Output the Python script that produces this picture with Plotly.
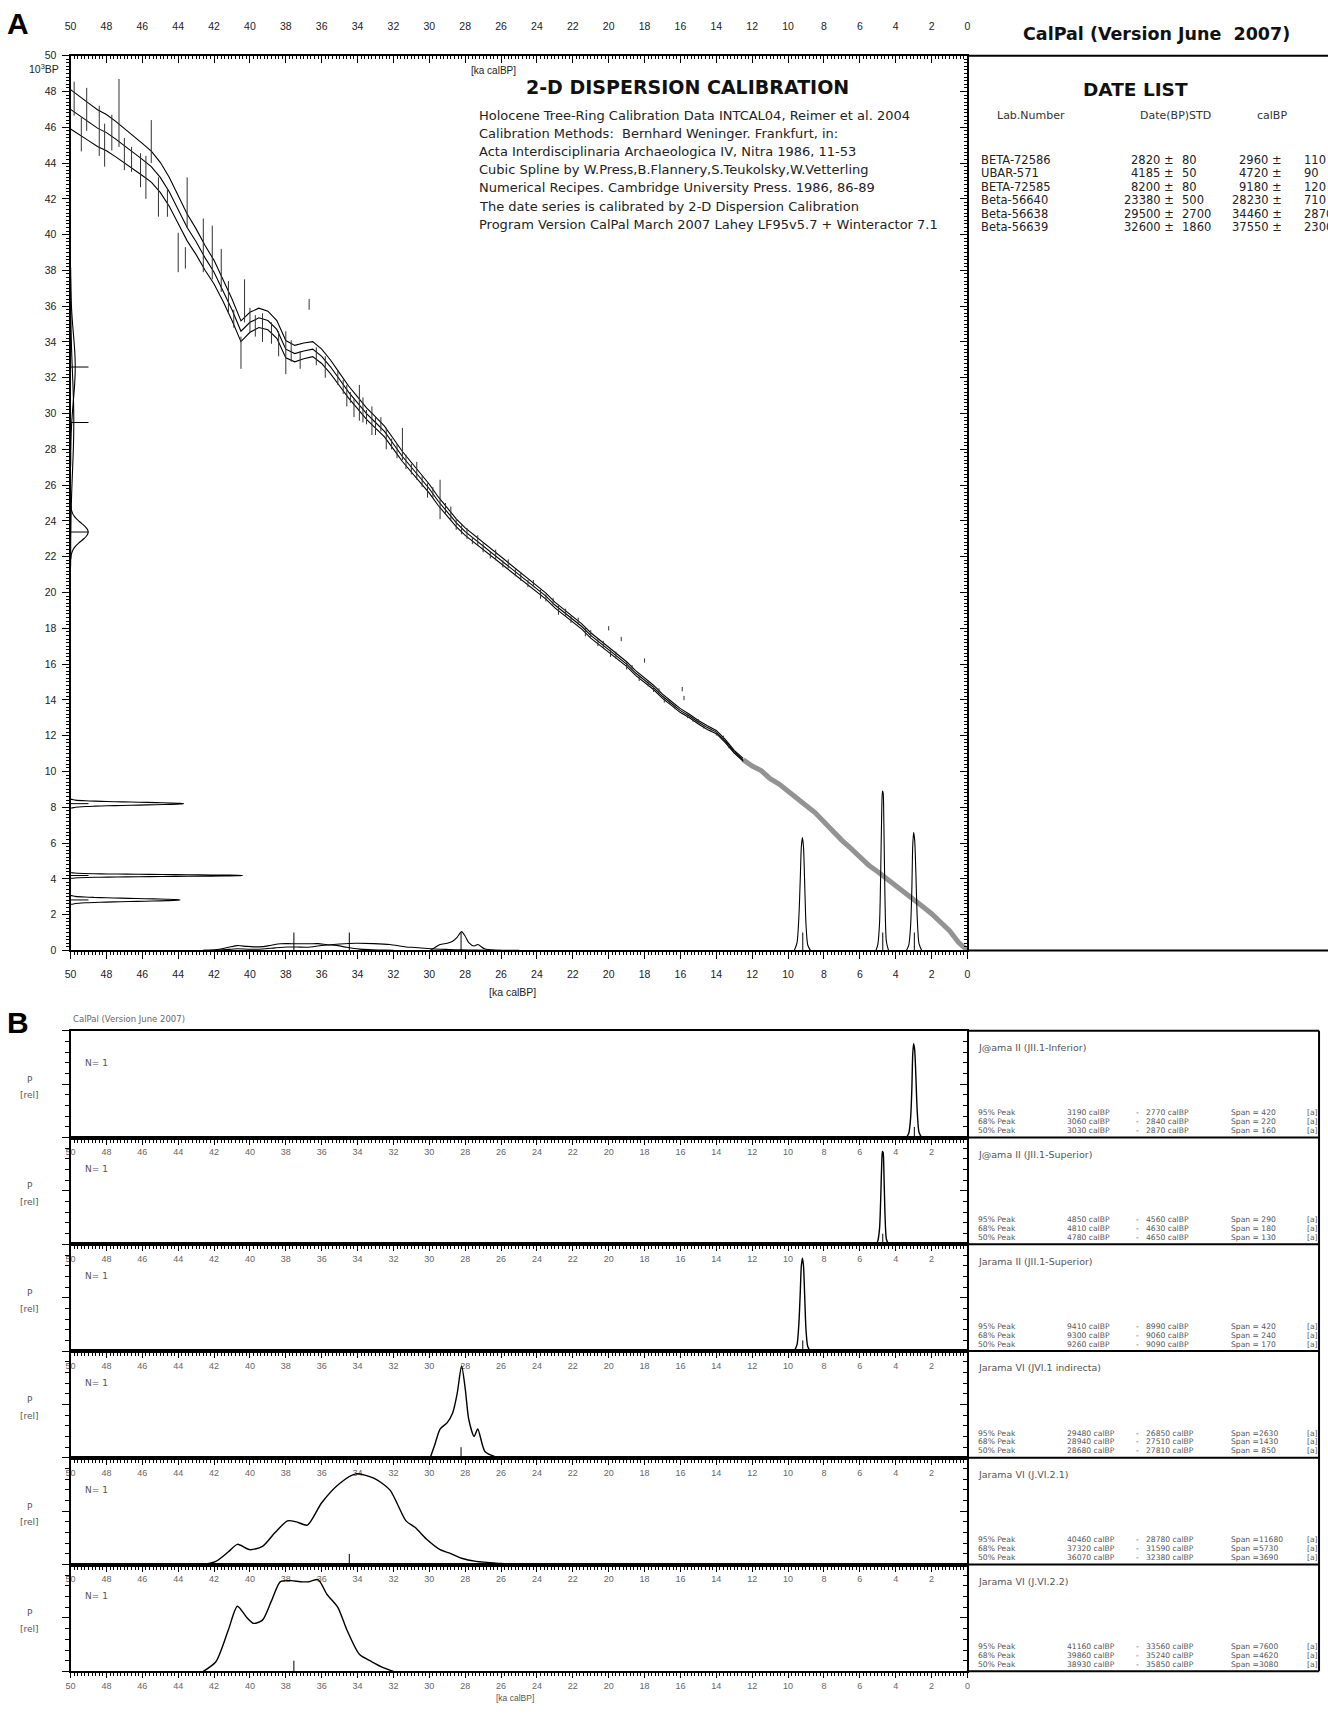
import plotly.graph_objects as go

W, H = 1328, 1730
SANS = "Liberation Sans, Arial, sans-serif"
WIDE = "DejaVu Sans, Verdana, sans-serif"

# ------------------------------------------------------------------ data
lab_numbers = ["BETA-72586", "UBAR-571", "BETA-72585", "Beta-56640", "Beta-56638", "Beta-56639"]
c14_bp = [2820, 4185, 8200, 23380, 29500, 32600]
c14_std = [80, 50, 80, 500, 2700, 1860]
cal_bp = [2960, 4720, 9180, 28230, 34460, 37550]
cal_std = [110, 90, 120, 710, 2870, 2300]

x_ticks = [50, 48, 46, 44, 42, 40, 38, 36, 34, 32, 30, 28, 26, 24, 22, 20, 18, 16, 14, 12, 10, 8, 6, 4, 2, 0]
y_ticks = [0, 2, 4, 6, 8, 10, 12, 14, 16, 18, 20, 22, 24, 26, 28, 30, 32, 34, 36, 38, 40, 42, 44, 46, 48, 50]

# calibration curve: ka calBP -> 10^3 BP (mean and 1-sigma)
curve_cal = [0.0, 0.5, 1.0, 1.5, 2.0, 2.5, 3.0, 3.5, 4.0, 4.5, 5.0, 5.5, 6.0, 6.5, 7.0, 7.5, 8.0, 8.5, 9.0, 9.5,
             10.0, 10.5, 11.0, 11.5, 12.0, 12.5, 13.0, 13.5, 14.0, 14.5, 15.0, 15.5, 16.0, 16.5, 17.0, 17.5,
             18.0, 18.5, 19.0, 19.5, 20.0, 20.5, 21.0, 21.5, 22.0, 22.5, 23.0, 23.5, 24.0, 24.5, 25.0, 25.5,
             26.0, 26.5, 27.0, 27.5, 28.0, 28.5, 29.0, 29.5, 30.0, 30.5, 31.0, 31.5, 32.0, 32.5, 33.0, 33.5,
             34.0, 34.5, 35.0, 35.5, 36.0, 36.5, 37.0, 37.5, 38.0, 38.5, 39.0, 39.5, 40.0, 40.5, 41.0, 41.5,
             42.0, 42.5, 43.0, 43.5, 44.0, 44.5, 45.0, 45.5, 46.0, 46.5, 47.0, 47.5, 48.0, 48.5, 49.0, 49.5, 50.0]
curve_c14 = [0.00, 0.45, 1.10, 1.60, 2.05, 2.45, 2.85, 3.25, 3.60, 4.00, 4.40, 4.75, 5.25, 5.70, 6.15, 6.65,
             7.20, 7.70, 8.10, 8.50, 8.90, 9.30, 9.60, 10.05, 10.30, 10.65, 11.10, 11.70, 12.20, 12.45, 12.75,
             13.10, 13.40, 13.80, 14.20, 14.70, 15.10, 15.50, 16.00, 16.40, 16.80, 17.20, 17.60, 18.10, 18.50,
             18.90, 19.30, 19.80, 20.20, 20.60, 21.00, 21.40, 21.80, 22.20, 22.60, 23.00, 23.40, 23.90, 24.50,
             25.10, 25.80, 26.40, 27.00, 27.60, 28.30, 29.00, 29.50, 30.00, 30.60, 31.20, 31.90, 32.60, 33.20,
             33.60, 33.50, 33.35, 33.60, 34.70, 35.20, 35.35, 35.10, 34.60, 35.80, 36.90, 37.90, 38.70, 39.60,
             40.40, 41.40, 42.40, 43.20, 43.80, 44.20, 44.60, 45.00, 45.35, 45.70, 45.95, 46.30, 46.65, 47.00]
curve_sig = [0.02, 0.02, 0.02, 0.02, 0.03, 0.03, 0.03, 0.03, 0.03, 0.03, 0.04, 0.04, 0.04, 0.04, 0.04, 0.05,
             0.05, 0.05, 0.05, 0.05, 0.06, 0.06, 0.06, 0.07, 0.07, 0.08, 0.08, 0.09, 0.09, 0.10, 0.10, 0.10,
             0.11, 0.11, 0.12, 0.12, 0.12, 0.13, 0.13, 0.13, 0.14, 0.14, 0.15, 0.15, 0.15, 0.16, 0.16, 0.17,
             0.17, 0.18, 0.18, 0.19, 0.19, 0.20, 0.20, 0.21, 0.21, 0.22, 0.23, 0.24, 0.25, 0.26, 0.27, 0.28,
             0.29, 0.30, 0.31, 0.32, 0.33, 0.34, 0.36, 0.38, 0.40, 0.42, 0.44, 0.46, 0.48, 0.50, 0.52, 0.54,
             0.56, 0.58, 0.60, 0.63, 0.66, 0.69, 0.72, 0.75, 0.78, 0.81, 0.84, 0.87, 0.90, 0.93, 0.96, 0.99,
             1.01, 1.03, 1.05, 1.07, 1.10]
grey_until = 12.5  # curve drawn as single grey line below this age

# raw calibration data (x = ka calBP, y = 10^3 BP, e = 1 sigma)
pts_x = [49.8, 49.4, 49.1, 48.4, 48.1, 47.7, 47.3, 47.0, 46.6, 46.1,
         45.8, 45.5, 45.1, 44.6, 44.0, 43.6, 43.5, 42.6, 42.1, 41.6,
         41.2, 40.9, 40.5, 40.3, 40.0, 39.7, 39.3, 38.8, 38.4, 38.0,
         37.7, 37.2, 36.7, 36.3, 35.8, 35.1,
         34.8, 34.6, 34.4, 34.2, 33.9, 33.7, 33.5, 33.2, 33.0, 32.7,
         32.4, 32.1, 31.8, 31.5, 31.3, 31.0, 30.7, 30.4, 30.1, 29.8,
         29.4, 29.1, 28.8, 28.5, 28.2, 27.9, 27.6, 27.3, 27.0, 26.6,
         26.3, 25.9, 25.6, 25.2, 24.9, 24.5, 24.2, 23.8, 23.5, 23.1,
         22.8, 22.4, 22.1, 21.7, 21.3, 21.0, 20.6, 20.3, 20.0, 19.9,
         19.6, 19.3, 19.0, 18.7, 18.3, 18.0, 17.8, 17.5, 17.2, 16.9,
         16.6, 16.3, 15.9, 15.8, 15.6, 15.3, 15.0, 14.7, 14.3, 14.0,
         13.6, 13.3, 13.0]
pts_y = [47.6, 45.6, 47.0, 45.8, 45.0, 45.7, 46.8, 44.5, 44.2, 43.6,
         43.2, 45.2, 42.1, 41.8, 39.0, 38.7, 41.8, 39.4, 39.0, 38.0,
         36.5, 35.3, 33.4, 36.3, 35.2, 34.9, 34.8, 34.5, 33.9, 33.4,
         33.5, 33.0, 36.1, 33.2, 32.6, 32.0,
         31.5, 31.0, 30.9, 30.3, 30.6, 30.2, 29.8, 29.6, 29.3, 29.4,
         28.6, 28.3, 27.9, 28.3, 27.3, 26.9, 26.8, 26.2, 25.7, 25.6,
         25.2, 24.7, 24.4, 23.8, 23.5, 23.3, 22.9, 22.9, 22.5, 22.1,
         22.1, 21.6, 21.6, 21.1, 20.9, 20.5, 20.5, 19.9, 19.7, 19.5,
         19.0, 18.9, 18.5, 18.4, 17.8, 17.7, 17.2, 17.1, 18.0, 16.6,
         16.5, 17.4, 15.9, 15.8, 15.2, 16.2, 14.9, 14.6, 14.5, 14.0,
         13.9, 13.6, 14.6, 14.1, 13.1, 12.9, 12.8, 12.5, 12.3, 12.1,
         11.9, 11.4, 11.1]
pts_e = [0.95, 0.95, 1.2, 1.4, 1.2, 1.0, 1.9, 0.9, 0.7, 0.95,
         1.2, 1.2, 1.1, 0.8, 1.1, 0.6, 1.4, 1.5, 1.5, 1.2,
         0.9, 0.5, 0.9, 1.2, 0.7, 0.6, 0.8, 0.6, 0.7, 1.2,
         0.6, 0.5, 0.3, 0.5, 0.6, 0.4,
         0.4, 0.6, 0.3, 0.5, 1.0, 0.7, 0.4, 0.8, 0.5, 0.4,
         0.6, 0.3, 0.4, 0.9, 0.4, 0.3, 0.5, 0.3, 0.4, 0.3,
         1.1, 0.3, 0.4, 0.3, 0.25, 0.3, 0.2, 0.3, 0.25, 0.2,
         0.3, 0.2, 0.25, 0.2, 0.25, 0.2, 0.2, 0.25, 0.2, 0.2,
         0.25, 0.2, 0.2, 0.2, 0.25, 0.2, 0.2, 0.2, 0.12, 0.2,
         0.2, 0.12, 0.2, 0.15, 0.15, 0.12, 0.15, 0.15, 0.15, 0.15,
         0.12, 0.12, 0.12, 0.12, 0.12, 0.12, 0.12, 0.1, 0.1, 0.1,
         0.1, 0.1, 0.1]

# normal-curve template for the 14C dates drawn on the y axis
gauss_z = [-3.0, -2.5, -2.0, -1.75, -1.5, -1.25, -1.0, -0.75, -0.5, -0.25, 0.0,
           0.25, 0.5, 0.75, 1.0, 1.25, 1.5, 1.75, 2.0, 2.5, 3.0]
gauss_p = [0.011, 0.044, 0.135, 0.216, 0.325, 0.458, 0.607, 0.755, 0.882, 0.969, 1.0,
           0.969, 0.882, 0.755, 0.607, 0.458, 0.325, 0.216, 0.135, 0.044, 0.011]
c14_peak_len = [6.1, 9.6, 6.3, 0.98, 0.18, 0.26]      # ka calBP units
cal_peak_height = [6.6, 8.9, 6.3, 1.05, 0.40, 0.38]   # 10^3 BP units (panel A)

# calibrated probability distributions (relative)
prob_x = [
    [2.55, 2.7, 2.8, 2.88, 2.94, 3.0, 3.05, 3.1, 3.17, 3.27, 3.4],
    [4.4, 4.52, 4.6, 4.66, 4.7, 4.74, 4.78, 4.84, 4.9, 5.0, 5.1],
    [8.75, 8.9, 9.0, 9.08, 9.14, 9.2, 9.26, 9.32, 9.4, 9.5, 9.65],
    [26.0, 26.3, 26.9, 27.3, 27.5, 27.8, 28.0, 28.2, 28.45, 28.7, 29.0, 29.4, 29.7, 29.95],
    [25.0, 26.0, 27.4, 28.2, 28.9, 29.4, 30.1, 30.8, 31.3, 32.2, 33.1, 34.1, 35.0, 36.0, 36.8,
     37.4, 37.9, 38.6, 39.3, 40.0, 40.7, 41.2, 41.9, 42.6],
    [32.0, 32.5, 33.2, 33.9, 34.6, 35.1, 35.7, 36.2, 36.7, 37.2, 37.7, 38.3, 38.8, 39.3, 39.8,
     40.2, 40.7, 41.2, 41.9, 42.6],
]
prob_h = [
    [0.0, 0.05, 0.25, 0.6, 0.82, 0.88, 0.78, 0.45, 0.18, 0.04, 0.0],
    [0.0, 0.05, 0.3, 0.7, 0.86, 0.87, 0.75, 0.4, 0.15, 0.03, 0.0],
    [0.0, 0.04, 0.2, 0.55, 0.8, 0.87, 0.8, 0.55, 0.25, 0.06, 0.0],
    [0.0, 0.01, 0.06, 0.27, 0.20, 0.36, 0.65, 0.86, 0.6, 0.42, 0.33, 0.27, 0.12, 0.0],
    [0.0, 0.01, 0.03, 0.06, 0.11, 0.14, 0.23, 0.35, 0.41, 0.70, 0.81, 0.85, 0.76, 0.58, 0.37,
     0.40, 0.41, 0.30, 0.17, 0.14, 0.19, 0.12, 0.03, 0.0],
    [0.0, 0.03, 0.09, 0.16, 0.39, 0.60, 0.72, 0.86, 0.84, 0.84, 0.85, 0.84, 0.66, 0.48, 0.45,
     0.51, 0.61, 0.39, 0.09, 0.0],
]

sample_names = ["J@ama II (JII.1-Inferior)", "J@ama II (JII.1-Superior)", "Jarama II (JII.1-Superior)",
                "Jarama VI (JVI.1 indirecta)", "Jarama VI (J.VI.2.1)", "Jarama VI (J.VI.2.2)"]
peak_levels = ["95% Peak", "68% Peak", "50% Peak"]
peak_hi = [[3190, 3060, 3030], [4850, 4810, 4780], [9410, 9300, 9260],
           [29480, 28940, 28680], [40460, 37320, 36070], [41160, 39860, 38930]]
peak_lo = [[2770, 2840, 2870], [4560, 4630, 4650], [8990, 9060, 9090],
           [26850, 27510, 27810], [28780, 31590, 32380], [33560, 35240, 35850]]
peak_span = [[420, 220, 160], [290, 180, 130], [420, 240, 170],
             [2630, 1430, 850], [11680, 5730, 3690], [7600, 4620, 3080]]

info_lines = [
    "Holocene Tree-Ring Calibration Data INTCAL04, Reimer et al. 2004",
    "Calibration Methods:  Bernhard Weninger. Frankfurt, in:",
    "Acta Interdisciplinaria Archaeologica IV, Nitra 1986, 11-53",
    "Cubic Spline by W.Press,B.Flannery,S.Teukolsky,W.Vetterling",
    "Numerical Recipes. Cambridge University Press. 1986, 86-89",
    "The date series is calibrated by 2-D Dispersion Calibration",
    "Program Version CalPal March 2007 Lahey LF95v5.7 + Winteractor 7.1",
]

# ------------------------------------------------------------------ geometry (pixels)
XL, XR = 65, 968          # plot area left/right (x=50 .. x=0)
AT, AB = 50, 951          # panel A top/bottom
BT, BH = 1032, 107.5      # panel B first strip top, strip height
BOXR = 1322               # right border of panel B text boxes


def px(x):
    return x / W


def py(y):
    return 1 - y / H


fig = go.Figure()


def note(t, x, y, size=10, anchor="left", color="#222", family=WIDE, bold=False):
    fig.add_annotation(text=("<b>%s</b>" % t) if bold else t, x=px(x), y=py(y),
                       xref="paper", yref="paper", xanchor=anchor, yanchor="middle",
                       showarrow=False, font=dict(size=size, color=color, family=family))


def seg_lists(x0, y0, x1, y1):
    X, Y = [], []
    for a, b, c, d in zip(x0, y0, x1, y1):
        X += [a, c, None]
        Y += [b, d, None]
    return X, Y


def line(x, y, color="black", width=1.2, shape="linear", xa="x", ya="y"):
    fig.add_trace(go.Scatter(x=x, y=y, mode="lines", xaxis=xa, yaxis=ya,
                             line=dict(color=color, width=width, shape=shape, smoothing=0.7),
                             hoverinfo="skip", showlegend=False))


# ------------------------------------------------------------------ panel A traces
gi = curve_cal.index(grey_until)
line(curve_cal[:gi + 1], curve_c14[:gi + 1], color="#939393", width=5)
band_x = curve_cal[gi:]
line(band_x, curve_c14[gi:], width=1.1)
line(band_x, [m + s for m, s in zip(curve_c14[gi:], curve_sig[gi:])], width=1.1)
line(band_x, [m - s for m, s in zip(curve_c14[gi:], curve_sig[gi:])], width=1.1)

ex, ey = seg_lists(pts_x, [y - e for y, e in zip(pts_y, pts_e)], pts_x, [y + e for y, e in zip(pts_y, pts_e)])
line(ex, ey, color="#333", width=1)

# 14C dates as normal curves on the y axis + median ticks
for mu, sd, L in zip(c14_bp, c14_std, c14_peak_len):
    gx = [50] + [50 - L * p for p in gauss_p] + [50]
    gy = [mu / 1000 - 3 * sd / 1000] + [mu / 1000 + z * sd / 1000 for z in gauss_z] + [mu / 1000 + 3 * sd / 1000]
    line(gx, gy, width=1.1, shape="spline")
tx, ty = seg_lists([50] * 6, [v / 1000 for v in c14_bp], [49] * 6, [v / 1000 for v in c14_bp])
line(tx, ty, width=1)

# calibrated distributions on the x axis + median ticks
for xs, hs, amp in zip(prob_x, prob_h, cal_peak_height):
    m = max(hs)
    line(xs, [h / m * amp for h in hs], width=1.1, shape="spline")
tx, ty = seg_lists([v / 1000 for v in cal_bp], [0] * 6, [v / 1000 for v in cal_bp], [1.0] * 6)
line(tx, ty, width=1)

# overlay axes dummy
fig.add_trace(go.Scatter(x=[None], y=[None], xaxis="x2", yaxis="y2", showlegend=False))

# ------------------------------------------------------------------ axes
tick_font_a = dict(family=SANS, size=10.5, color="#222")
minor_out = dict(dtick=0.2, tick0=0, ticks="outside", ticklen=3, tickwidth=1, tickcolor="black")
minor_in = dict(dtick=0.2, tick0=0, ticks="inside", ticklen=3, tickwidth=1, tickcolor="black")
axis_common = dict(showgrid=False, zeroline=False, showline=True, linecolor="black", linewidth=2,
                   tickcolor="black", tickwidth=1)

layout = dict(
    xaxis=dict(domain=[px(XL), px(XR)], anchor="y", range=[50, 0], tickmode="array", tickvals=x_ticks,
               ticktext=[str(v) for v in x_ticks], ticks="outside", ticklen=7, minor=minor_out,
               tickfont=tick_font_a, ticklabelstandoff=6, **axis_common),
    xaxis2=dict(overlaying="x", side="top", anchor="y", range=[50, 0], tickmode="array", tickvals=x_ticks,
                ticktext=[str(v) for v in x_ticks], ticks="inside", ticklen=7, minor=minor_in,
                tickfont=tick_font_a, ticklabelstandoff=19, **axis_common),
    yaxis=dict(domain=[py(AB), py(AT)], anchor="x", range=[0, 50], tickmode="array", tickvals=y_ticks,
               ticktext=[str(v) for v in y_ticks], ticks="outside", ticklen=7, minor=minor_out,
               tickfont=tick_font_a, ticklabelstandoff=3, **axis_common),
    yaxis2=dict(overlaying="y", side="right", anchor="x", range=[0, 50], tickmode="array", tickvals=y_ticks,
                ticks="inside", ticklen=7, minor=minor_in, showticklabels=False, **axis_common),
)

# ------------------------------------------------------------------ panel B strips
tick_font_b = dict(family=SANS, size=9, color="#666")
for k in range(6):
    xi, yi, ri = 3 + k, 3 + k, 9 + k
    top = BT + k * BH
    bot = top + BH
    last = (k == 5)
    tv = x_ticks if last else x_ticks[:-1]
    layout["xaxis%d" % xi] = dict(
        domain=[px(XL), px(XR)], anchor="y%d" % yi, range=[50, 0], mirror=True, tickmode="array",
        tickvals=tv, ticktext=[str(v) for v in tv],
        ticks="outside", ticklen=5, minor=minor_out, tickfont=tick_font_b, **axis_common)
    layout["yaxis%d" % yi] = dict(
        domain=[py(bot), py(top)], anchor="x%d" % xi, range=[0, 1], tickmode="array",
        tickvals=[0, 0.5, 1], ticks="outside", ticklen=7, showticklabels=False,
        minor=dict(dtick=0.1, tick0=0, ticks="outside", ticklen=4, tickcolor="black"), **axis_common)
    layout["yaxis%d" % ri] = dict(
        overlaying="y%d" % yi, side="right", anchor="x%d" % xi, range=[0, 1], tickmode="array",
        tickvals=[0, 0.5, 1], ticks="inside", ticklen=7, showticklabels=False,
        minor=dict(dtick=0.1, tick0=0, ticks="inside", ticklen=4, tickcolor="black"), **axis_common)

    line(prob_x[k], prob_h[k], width=1.4, shape="spline", xa="x%d" % xi, ya="y%d" % yi)
    med = cal_bp[k] / 1000
    line([med, med], [0, 0.1], width=1, xa="x%d" % xi, ya="y%d" % yi)
    fig.add_trace(go.Scatter(x=[None], y=[None], xaxis="x%d" % xi, yaxis="y%d" % ri, showlegend=False))

    # left labels
    note("N= 1", 78, top + 32, size=9, color="#555")
    note("P", 24, top + 49, size=9, anchor="center", color="#555")
    note("[rel]", 24, top + 65, size=9, anchor="center", color="#555")
    # right text box
    note(sample_names[k], 977, top + 17, size=9.5, color="#555")
    for j in range(3):
        yy = bot - 25 + j * 9
        note(peak_levels[j], 977, yy, size=7.6, color="#555")
        note("%d calBP" % peak_hi[k][j], 1066, yy, size=7.6, color="#555")
        note("-", 1136, yy, size=7.6, color="#555")
        note("%d calBP" % peak_lo[k][j], 1146, yy, size=7.6, color="#555")
        sp = peak_span[k][j]
        note(("Span = %d" if sp < 1000 else "Span =%d") % sp, 1231, yy, size=7.6, color="#555")
        note("[a]", 1308, yy, size=7.6, color="#555")

note("[ka calBP]", 512, BT + 6 * BH + 27, size=8.5, anchor="center", color="#555", family=SANS)
note("CalPal (Version June 2007)", 65, 1020, size=8.5, color="#666")
note("B", 12, 1024, size=30, anchor="center", color="black", family=SANS, bold=True)

# ------------------------------------------------------------------ panel A texts
note("A", 12, 18, size=30, anchor="center", color="black", family=SANS, bold=True)
note("10<sup>3</sup>BP", 55, 63, size=10.5, anchor="right", color="#222", family=SANS)
note("[ka calBP]", 510, 993, size=10.5, anchor="center", color="#222", family=SANS)
note("[ka calBP]", 466, 65, size=10, color="#222", family=SANS)
note("2-D DISPERSION CALIBRATION", 686, 82, size=19, anchor="center", color="#111", bold=True)
for i, t in enumerate(info_lines):
    note(t, 474, 110 + i * 18.3, size=13, color="#222")

note("CalPal (Version June  2007)", 1158, 28, size=17.5, anchor="center", color="#111", bold=True)
note("DATE LIST", 1137, 84, size=18.5, anchor="center", color="#111", bold=True)
note("Lab.Number", 996, 110, size=11, color="#333")
note("Date(BP)STD", 1140, 110, size=11, color="#333")
note("calBP", 1258, 110, size=11, color="#333")
for i in range(6):
    yy = 155 + i * 13.6
    note(lab_numbers[i], 980, yy, size=11.5, color="#222")
    note("%d \u00b1" % c14_bp[i], 1178, yy, size=11.5, anchor="right", color="#222")
    note("%d" % c14_std[i], 1182, yy, size=11.5, color="#222")
    note("%d \u00b1" % cal_bp[i], 1287, yy, size=11.5, anchor="right", color="#222")
    note("%d" % cal_std[i], 1305, yy, size=11.5, color="#222")

# ------------------------------------------------------------------ frame lines
shapes = []


def pline(x0, y0, x1, y1, w=2):
    shapes.append(dict(type="line", xref="paper", yref="paper", x0=px(x0), y0=py(y0), x1=px(x1), y1=py(y1),
                       line=dict(color="black", width=w)))


pline(XR, AT, W + 20, AT)
pline(XR, AB, W + 20, AB)
for k in range(7):
    pline(XR, BT + k * BH, BOXR, BT + k * BH)
pline(BOXR, BT, BOXR, BT + 6 * BH)

fig.update_layout(width=W, height=H, margin=dict(l=0, r=0, t=0, b=0), paper_bgcolor="white",
                  plot_bgcolor="rgba(0,0,0,0)", showlegend=False, hovermode=False, shapes=shapes, **layout)

fig.write_html("out.html", config={"displayModeBar": False},
               post_script="document.body.style.margin='0px';")
